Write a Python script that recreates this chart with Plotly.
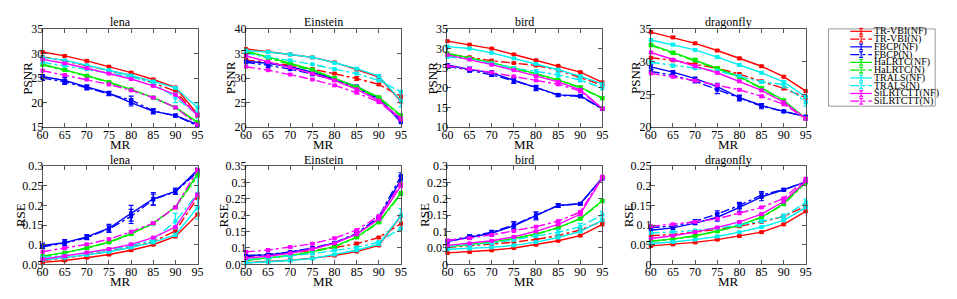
import plotly.graph_objects as go

MR = [60, 65, 70, 75, 80, 85, 90, 95]
SERIES = ["TR-VBI(NF)", "TR-VBI(N)", "FBCP(NF)", "FBCP(N)", "HaLRTC(NF)", "HaLRTC(N)",
          "TRALS(NF)", "TRALS(N)", "SiLRTCTT(NF)", "SiLRTCTT(N)"]
IMAGES = ["lena", "Einstein", "bird", "dragonfly"]

# ---- PSNR values ----
lena_psnr = {
    "TR-VBI(NF)": [30.3, 29.5, 28.5, 27.3, 26.1, 24.7, 23.1, 17.6],
    "TR-VBI(N)": [29.3, 28.5, 27.5, 26.5, 25.5, 24.0, 22.3, 17.3],
    "FBCP(NF)": [25.3, 24.5, 23.2, 21.9, 20.0, 18.2, 17.4, 15.5],
    "FBCP(N)": [25.0, 24.2, 23.0, 21.8, 20.5, 18.3, 17.3, 15.3],
    "HaLRTC(NF)": [27.8, 26.7, 25.5, 24.2, 22.7, 21.0, 19.0, 16.0],
    "HaLRTC(N)": [27.7, 26.6, 25.4, 24.1, 22.6, 21.0, 19.0, 15.8],
    "TRALS(NF)": [29.2, 28.6, 27.6, 26.6, 25.5, 24.3, 23.0, 19.0],
    "TRALS(N)": [28.2, 27.5, 26.8, 26.0, 25.2, 24.0, 21.0, 17.5],
    "SiLRTCTT(NF)": [28.8, 28.0, 27.0, 25.9, 24.8, 23.4, 21.6, 17.5],
    "SiLRTCTT(N)": [26.5, 25.6, 24.7, 23.7, 22.5, 21.0, 19.0, 15.5],
}
einstein_psnr = {
    "TR-VBI(NF)": [35.9, 35.4, 34.8, 34.2, 33.2, 31.7, 30.2, 25.2],
    "TR-VBI(N)": [33.7, 33.2, 32.6, 31.8, 30.9, 29.9, 28.7, 26.2],
    "FBCP(NF)": [33.4, 33.0, 32.3, 31.2, 29.8, 28.3, 25.9, 21.0],
    "FBCP(N)": [33.2, 32.6, 31.8, 30.8, 29.6, 28.0, 25.7, 21.5],
    "HaLRTC(NF)": [35.5, 34.3, 33.0, 31.7, 30.0, 28.2, 26.1, 22.4],
    "HaLRTC(N)": [35.3, 34.1, 32.8, 31.5, 29.9, 28.0, 25.9, 22.2],
    "TRALS(NF)": [35.6, 35.3, 34.8, 34.2, 33.1, 31.9, 30.4, 25.3],
    "TRALS(N)": [35.0, 34.3, 33.6, 32.8, 31.8, 30.9, 29.5, 27.2],
    "SiLRTCTT(NF)": [34.5, 33.3, 32.2, 30.9, 29.5, 27.7, 25.4, 21.8],
    "SiLRTCTT(N)": [32.3, 31.6, 30.7, 29.7, 28.5, 27.0, 25.1, 21.5],
}
bird_psnr = {
    "TR-VBI(NF)": [31.9, 31.0, 30.0, 28.5, 27.0, 25.6, 24.0, 21.4],
    "TR-VBI(N)": [28.5, 27.8, 26.9, 26.3, 25.7, 24.5, 22.7, 20.7],
    "FBCP(NF)": [25.8, 24.7, 23.8, 21.9, 19.9, 18.2, 18.0, 14.7],
    "FBCP(N)": [25.5, 24.5, 23.3, 21.8, 20.1, 18.1, 17.8, 14.6],
    "HaLRTC(NF)": [28.8, 27.6, 26.4, 25.0, 23.6, 22.0, 20.2, 17.4],
    "HaLRTC(N)": [28.5, 27.4, 26.2, 24.9, 23.5, 21.9, 20.0, 17.3],
    "TRALS(NF)": [30.5, 30.0, 28.9, 27.5, 26.1, 24.6, 23.0, 21.0],
    "TRALS(N)": [27.9, 27.3, 26.2, 25.0, 24.2, 23.3, 22.0, 20.0],
    "SiLRTCTT(NF)": [28.4, 27.2, 25.9, 24.5, 23.0, 21.5, 19.5, 14.7],
    "SiLRTCTT(N)": [25.6, 24.8, 23.9, 22.9, 21.9, 20.9, 19.2, 14.7],
}
dragonfly_psnr = {
    "TR-VBI(NF)": [34.5, 33.7, 32.8, 31.7, 30.5, 29.3, 27.7, 25.5],
    "TR-VBI(N)": [30.6, 30.2, 29.6, 29.0, 28.1, 27.0, 25.9, 24.5],
    "FBCP(NF)": [29.2, 28.4, 27.4, 26.2, 24.5, 23.3, 22.4, 21.6],
    "FBCP(N)": [28.5, 27.9, 27.0, 25.7, 24.4, 23.2, 22.4, 21.6],
    "HaLRTC(NF)": [32.6, 31.4, 30.3, 29.0, 27.7, 26.0, 24.1, 21.3],
    "HaLRTC(N)": [32.5, 31.3, 30.2, 28.9, 27.6, 25.9, 24.0, 21.3],
    "TRALS(NF)": [33.3, 32.6, 31.8, 30.7, 29.5, 28.3, 26.9, 24.6],
    "TRALS(N)": [29.9, 29.4, 29.0, 28.6, 27.8, 26.9, 26.5, 23.8],
    "SiLRTCTT(NF)": [31.4, 30.3, 29.3, 28.3, 27.0, 25.6, 23.8, 21.3],
    "SiLRTCTT(N)": [28.2, 27.7, 27.1, 26.4, 25.7, 24.7, 23.5, 21.3],
}

# ---- RSE values ----
lena_rse = {
    "TR-VBI(NF)": [0.055, 0.060, 0.067, 0.075, 0.086, 0.100, 0.121, 0.177],
    "TR-VBI(N)": [0.060, 0.066, 0.074, 0.083, 0.094, 0.108, 0.135, 0.220],
    "FBCP(NF)": [0.098, 0.105, 0.120, 0.142, 0.180, 0.217, 0.236, 0.290],
    "FBCP(N)": [0.095, 0.104, 0.118, 0.140, 0.172, 0.215, 0.235, 0.285],
    "HaLRTC(NF)": [0.071, 0.080, 0.092, 0.107, 0.128, 0.155, 0.196, 0.280],
    "HaLRTC(N)": [0.070, 0.079, 0.091, 0.106, 0.127, 0.154, 0.195, 0.275],
    "TRALS(NF)": [0.061, 0.067, 0.074, 0.082, 0.093, 0.106, 0.125, 0.195],
    "TRALS(N)": [0.068, 0.072, 0.079, 0.087, 0.098, 0.112, 0.160, 0.230],
    "SiLRTCTT(NF)": [0.063, 0.071, 0.080, 0.089, 0.101, 0.118, 0.145, 0.228],
    "SiLRTCTT(N)": [0.082, 0.091, 0.101, 0.114, 0.133, 0.155, 0.195, 0.290],
}
einstein_rse = {
    "TR-VBI(NF)": [0.055, 0.058, 0.063, 0.069, 0.077, 0.089, 0.108, 0.198],
    "TR-VBI(N)": [0.074, 0.079, 0.085, 0.093, 0.101, 0.113, 0.132, 0.175],
    "FBCP(NF)": [0.077, 0.079, 0.087, 0.098, 0.115, 0.142, 0.190, 0.310],
    "FBCP(N)": [0.075, 0.080, 0.088, 0.100, 0.116, 0.145, 0.195, 0.320],
    "HaLRTC(NF)": [0.063, 0.069, 0.077, 0.089, 0.105, 0.133, 0.180, 0.268],
    "HaLRTC(N)": [0.062, 0.068, 0.076, 0.088, 0.104, 0.132, 0.178, 0.265],
    "TRALS(NF)": [0.054, 0.057, 0.062, 0.068, 0.080, 0.093, 0.112, 0.200],
    "TRALS(N)": [0.065, 0.070, 0.076, 0.083, 0.093, 0.102, 0.118, 0.160],
    "SiLRTCTT(NF)": [0.069, 0.075, 0.084, 0.097, 0.114, 0.142, 0.188, 0.290],
    "SiLRTCTT(N)": [0.088, 0.094, 0.103, 0.113, 0.130, 0.155, 0.198, 0.295],
}
bird_rse = {
    "TR-VBI(NF)": [0.035, 0.038, 0.043, 0.050, 0.060, 0.072, 0.088, 0.122],
    "TR-VBI(N)": [0.052, 0.056, 0.062, 0.068, 0.076, 0.088, 0.105, 0.132],
    "FBCP(NF)": [0.070, 0.083, 0.095, 0.118, 0.148, 0.180, 0.185, 0.265],
    "FBCP(N)": [0.072, 0.085, 0.098, 0.120, 0.150, 0.180, 0.185, 0.262],
    "HaLRTC(NF)": [0.054, 0.060, 0.068, 0.079, 0.093, 0.112, 0.140, 0.195],
    "HaLRTC(N)": [0.053, 0.059, 0.067, 0.078, 0.092, 0.111, 0.139, 0.193],
    "TRALS(NF)": [0.046, 0.048, 0.052, 0.058, 0.068, 0.082, 0.100, 0.135],
    "TRALS(N)": [0.055, 0.059, 0.065, 0.075, 0.086, 0.098, 0.115, 0.152],
    "SiLRTCTT(NF)": [0.058, 0.064, 0.072, 0.084, 0.101, 0.122, 0.153, 0.265],
    "SiLRTCTT(N)": [0.073, 0.080, 0.090, 0.102, 0.115, 0.132, 0.160, 0.268],
}
dragonfly_rse = {
    "TR-VBI(NF)": [0.047, 0.051, 0.056, 0.063, 0.072, 0.082, 0.102, 0.135],
    "TR-VBI(N)": [0.073, 0.076, 0.082, 0.089, 0.097, 0.108, 0.122, 0.148],
    "FBCP(NF)": [0.087, 0.093, 0.105, 0.120, 0.145, 0.172, 0.190, 0.210],
    "FBCP(N)": [0.094, 0.097, 0.110, 0.128, 0.150, 0.177, 0.190, 0.210],
    "HaLRTC(NF)": [0.059, 0.065, 0.073, 0.085, 0.100, 0.120, 0.155, 0.210],
    "HaLRTC(N)": [0.058, 0.064, 0.072, 0.084, 0.099, 0.119, 0.153, 0.208],
    "TRALS(NF)": [0.053, 0.057, 0.063, 0.071, 0.082, 0.095, 0.112, 0.145],
    "TRALS(N)": [0.080, 0.082, 0.086, 0.092, 0.101, 0.110, 0.122, 0.158],
    "SiLRTCTT(NF)": [0.066, 0.073, 0.082, 0.094, 0.108, 0.128, 0.160, 0.212],
    "SiLRTCTT(N)": [0.097, 0.102, 0.108, 0.116, 0.130, 0.145, 0.168, 0.218],
}

# ---- error bar half-widths (series not listed use the default) ----
PSNR_ERR_DEFAULT = 0.15
RSE_ERR_DEFAULT = 0.002
lena_psnr_err = {
    "FBCP(NF)": [0.4, 0.6, 0.4, 0.4, 0.7, 0.5, 0.2, 0.2],
    "FBCP(N)": [0.5, 0.5, 0.4, 0.4, 0.8, 0.4, 0.2, 0.2],
    "TRALS(NF)": [0.15, 0.15, 0.15, 0.15, 0.15, 0.15, 0.2, 0.9],
    "TRALS(N)": [0.15, 0.15, 0.15, 0.15, 0.15, 0.15, 1.0, 0.8],
}
einstein_psnr_err = {
    "FBCP(N)": [0.3, 0.5, 0.2, 0.3, 0.2, 0.3, 0.2, 0.3],
    "TRALS(NF)": [0.15, 0.15, 0.15, 0.15, 0.15, 0.15, 0.3, 1.2],
    "TR-VBI(N)": [0.2, 0.15, 0.15, 0.15, 0.15, 0.4, 0.2, 0.4],
}
bird_psnr_err = {
    "FBCP(NF)": [0.4, 0.6, 0.5, 0.7, 0.6, 0.3, 0.2, 0.2],
    "FBCP(N)": [0.3, 0.5, 0.4, 0.6, 0.5, 0.3, 0.2, 0.2],
    "TRALS(N)": [0.15, 0.15, 0.15, 0.3, 0.4, 0.6, 0.5, 0.5],
}
dragonfly_psnr_err = {
    "FBCP(NF)": [0.4, 0.2, 0.2, 0.5, 0.4, 0.3, 0.15, 0.15],
    "FBCP(N)": [0.3, 0.2, 0.2, 0.6, 0.4, 0.4, 0.15, 0.15],
    "TRALS(N)": [0.15, 0.2, 0.15, 0.15, 0.2, 0.2, 0.5, 0.6],
}
lena_rse_err = {
    "FBCP(NF)": [0.006, 0.008, 0.006, 0.010, 0.020, 0.016, 0.008, 0.005],
    "FBCP(N)": [0.005, 0.006, 0.005, 0.008, 0.018, 0.014, 0.006, 0.004],
    "TRALS(NF)": [0.002, 0.002, 0.002, 0.002, 0.002, 0.002, 0.004, 0.030],
    "TRALS(N)": [0.002, 0.002, 0.002, 0.002, 0.002, 0.003, 0.020, 0.040],
}
einstein_rse_err = {
    "FBCP(NF)": [0.003, 0.003, 0.003, 0.004, 0.004, 0.005, 0.006, 0.020],
    "TRALS(NF)": [0.002, 0.002, 0.002, 0.002, 0.002, 0.003, 0.004, 0.020],
    "TR-VBI(N)": [0.002, 0.002, 0.002, 0.002, 0.002, 0.004, 0.003, 0.020],
}
bird_rse_err = {
    "FBCP(NF)": [0.005, 0.006, 0.008, 0.012, 0.012, 0.006, 0.003, 0.003],
    "FBCP(N)": [0.004, 0.005, 0.006, 0.010, 0.010, 0.005, 0.003, 0.003],
    "TRALS(N)": [0.002, 0.002, 0.002, 0.003, 0.004, 0.008, 0.010, 0.010],
}
dragonfly_rse_err = {
    "FBCP(NF)": [0.006, 0.005, 0.004, 0.010, 0.010, 0.010, 0.003, 0.003],
    "FBCP(N)": [0.005, 0.004, 0.004, 0.008, 0.008, 0.008, 0.003, 0.003],
    "TRALS(N)": [0.002, 0.002, 0.002, 0.002, 0.003, 0.004, 0.006, 0.008],
}

PSNR_RANGES = [[15, 35], [20, 40], [10, 35], [20, 35]]
RSE_RANGES = [[0.05, 0.3], [0.05, 0.35], [0, 0.3], [0, 0.25]]

COLORS = ["#ff0000", "#ff0000", "#0000ff", "#0000ff", "#00ee00", "#00ee00",
          "#00f0f0", "#00f0f0", "#ff00ff", "#ff00ff"]
DASHES = ["solid", "dashdot"] * 5

W, H = 957, 299
LEFTS = [37, 243, 447, 653]
PW = 157
ROWS = [(23, 126), (167, 270)]
YTITLE_OFFSET = {"PSNR": 16, "RSE": 23}
FONT = '"Liberation Serif", "Times New Roman", Times, serif'

fig = go.Figure()

panels = [
    (lena_psnr, lena_psnr_err, PSNR_ERR_DEFAULT, 0, 0, PSNR_RANGES[0], 5, "PSNR"),
    (einstein_psnr, einstein_psnr_err, PSNR_ERR_DEFAULT, 0, 1, PSNR_RANGES[1], 5, "PSNR"),
    (bird_psnr, bird_psnr_err, PSNR_ERR_DEFAULT, 0, 2, PSNR_RANGES[2], 5, "PSNR"),
    (dragonfly_psnr, dragonfly_psnr_err, PSNR_ERR_DEFAULT, 0, 3, PSNR_RANGES[3], 5, "PSNR"),
    (lena_rse, lena_rse_err, RSE_ERR_DEFAULT, 1, 0, RSE_RANGES[0], 0.05, "RSE"),
    (einstein_rse, einstein_rse_err, RSE_ERR_DEFAULT, 1, 1, RSE_RANGES[1], 0.05, "RSE"),
    (bird_rse, bird_rse_err, RSE_ERR_DEFAULT, 1, 2, RSE_RANGES[2], 0.05, "RSE"),
    (dragonfly_rse, dragonfly_rse_err, RSE_ERR_DEFAULT, 1, 3, RSE_RANGES[3], 0.05, "RSE"),
]

axis_common = dict(
    showline=True, linecolor="#555555", linewidth=1, mirror="ticks",
    ticks="inside", ticklen=4, tickcolor="#555555", showgrid=False, zeroline=False,
    tickfont=dict(family=FONT, size=12, color="#000"),
)

for k, (data, errs, edef, row, col, yr, dt, ytitle) in enumerate(panels):
    idx = k + 1
    xa = "x" if idx == 1 else f"x{idx}"
    ya = "y" if idx == 1 else f"y{idx}"
    top, bot = ROWS[row]
    left = LEFTS[col]
    for s, name in enumerate(SERIES):
        e = errs.get(name, [edef] * len(MR))
        fig.add_trace(go.Scatter(
            x=MR, y=data[name], xaxis=xa, yaxis=ya, mode="lines+markers",
            line=dict(color=COLORS[s], width=1.4, dash=DASHES[s]),
            marker=dict(symbol="square", size=4, color=COLORS[s]),
            error_y=dict(type="data", array=e, color=COLORS[s], thickness=1.2, width=2.5),
            cliponaxis=False, showlegend=False, name=name,
        ))
    fig.layout[f"xaxis{idx}" if idx > 1 else "xaxis"] = dict(
        axis_common, domain=[left / W, (left + PW) / W], range=[60, 95],
        tickvals=MR, anchor=ya, ticklabelstandoff=-4,
    )
    fig.layout[f"yaxis{idx}" if idx > 1 else "yaxis"] = dict(
        axis_common, domain=[1 - bot / H, 1 - top / H], range=yr, dtick=dt,
        tick0=0, anchor=xa, ticklabelstandoff=-4,
    )
    # subplot title
    fig.add_annotation(
        text=IMAGES[col], xref="paper", yref="paper",
        x=(left + PW / 2) / W, y=1 - (top - 7) / H, xanchor="center", yanchor="middle",
        showarrow=False, font=dict(family=FONT, size=12, color="#000"),
    )
    # x-axis title
    fig.add_annotation(
        text="MR", xref="paper", yref="paper",
        x=(left + PW / 2) / W, y=1 - (bot + 18) / H, xanchor="center", yanchor="middle",
        showarrow=False, font=dict(family=FONT, size=13, color="#000"),
    )
    # y-axis title
    fig.add_annotation(
        text=ytitle, xref="paper", yref="paper", textangle=-90,
        x=(left - YTITLE_OFFSET[ytitle]) / W, y=1 - ((top + bot) / 2) / H,
        xanchor="center", yanchor="middle",
        showarrow=False, font=dict(family=FONT, size=13, color="#000"),
    )

# ---- legend box (drawn manually for compact spacing) ----
LX0, LX1, LY0, LY1 = 833, 941, 23, 104
fig.add_shape(type="rect", xref="paper", yref="paper",
              x0=LX0 / W, x1=LX1 / W, y0=1 - LY1 / H, y1=1 - LY0 / H,
              line=dict(color="#999999", width=1), fillcolor="white")
for s, name in enumerate(SERIES):
    yc = 25.5 + s * 8.15
    yp = 1 - yc / H
    fig.add_shape(type="line", xref="paper", yref="paper",
                  x0=855 / W, x1=877 / W, y0=yp, y1=yp,
                  line=dict(color=COLORS[s], width=1.2, dash=DASHES[s]))
    fig.add_shape(type="line", xref="paper", yref="paper",
                  x0=866 / W, x1=866 / W, y0=1 - (yc - 3) / H, y1=1 - (yc + 3) / H,
                  line=dict(color=COLORS[s], width=1.2))
    for dy in (-3, 3):
        fig.add_shape(type="line", xref="paper", yref="paper",
                      x0=864 / W, x1=868 / W, y0=1 - (yc + dy) / H, y1=1 - (yc + dy) / H,
                      line=dict(color=COLORS[s], width=1.2))
    fig.add_annotation(text=name, xref="paper", yref="paper", x=877 / W, y=yp,
                       xanchor="left", yanchor="middle", showarrow=False,
                       font=dict(family=FONT, size=10, color="#000"))

fig.update_layout(
    width=W, height=H, margin=dict(l=0, r=0, t=0, b=0),
    paper_bgcolor="white", plot_bgcolor="white", showlegend=False,
)

fig.write_html(
    "out.html",
    config={"displayModeBar": False},
    post_script="document.body.style.margin='0';document.body.style.overflow='hidden';",
)
